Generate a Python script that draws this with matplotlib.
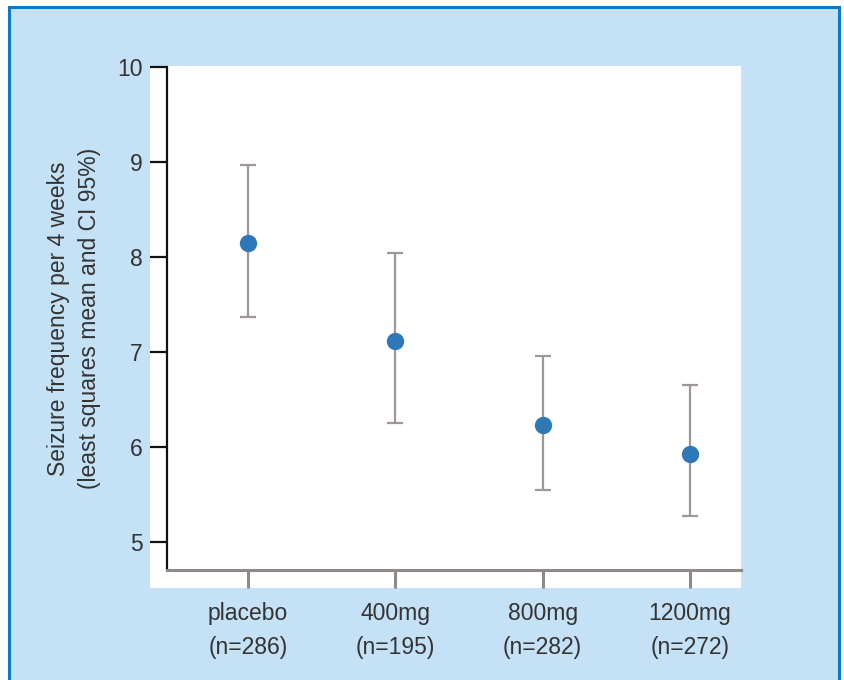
import matplotlib

matplotlib.use("Agg")
import matplotlib.pyplot as plt
from matplotlib.patches import Rectangle

# data
groups = ["placebo", "400mg", "800mg", "1200mg"]
counts = [286, 195, 282, 272]
means = [8.15, 7.12, 6.23, 5.93]
ci_low = [7.37, 6.25, 5.55, 5.27]
ci_high = [8.97, 8.04, 6.96, 6.65]

W, H = 844, 680
BLUE_FILL = "#c4e1f5"
BLUE_EDGE = "#0a7acc"
TEXT = "#333333"
GREY = "#9f9795"
DOT = "#2f78b8"

plt.rcParams["font.family"] = ["Liberation Sans", "DejaVu Sans"]

fig = plt.figure(figsize=(W / 100, H / 100), dpi=100, facecolor="white")


def fx(px):
    return px / W


def fy(py):
    return 1 - py / H


# blue panel and white plot area (behind the axes)
fig.patches.append(Rectangle((fx(9), fy(700)), fx(830), (700 - 7) / H,
                             transform=fig.transFigure, facecolor=BLUE_FILL,
                             edgecolor=BLUE_EDGE, linewidth=2.2, zorder=-2))
fig.patches.append(Rectangle((fx(150), fy(588)), fx(591), (588 - 66) / H,
                             transform=fig.transFigure, facecolor="white",
                             edgecolor="none", zorder=-1))

ax = fig.add_axes([fx(167), fy(570), fx(574), (570 - 67) / H])
ax.set_facecolor("white")

x = list(range(len(groups)))
yerr = [[m - lo for m, lo in zip(means, ci_low)],
        [hi - m for m, hi in zip(means, ci_high)]]
ax.errorbar(x, means, yerr=yerr, fmt="none", ecolor=GREY, elinewidth=1.6,
            capsize=6, capthick=1.6, zorder=2)
ax.plot(x, means, "o", color=DOT, markersize=12.5, markeredgewidth=0, zorder=3)

ax.set_xlim(-0.551, 3.347)
ax.set_ylim(10 - 503 / 95, 10)
ax.set_yticks([5, 6, 7, 8, 9, 10])
ax.set_xticks(x)
ax.set_xticklabels([f"{g}\n(n={n})" for g, n in zip(groups, counts)],
                   linespacing=1.6)

for side in ("top", "right"):
    ax.spines[side].set_visible(False)
ax.spines["left"].set_color("#111111")
ax.spines["left"].set_linewidth(1.6)
ax.spines["bottom"].set_color("#8f8a88")
ax.spines["bottom"].set_linewidth(2.2)
ax.spines["bottom"].set_linestyle((0, (2, 0.6)))

ax.tick_params(axis="y", direction="out", length=12.5, width=1.6,
               color="#111111", labelsize=16.5, labelcolor=TEXT, pad=5)
ax.tick_params(axis="x", direction="out", length=13, width=2.2,
               color="#8f8a88", labelsize=16.5, labelcolor=TEXT, pad=10)

ax.set_ylabel("Seizure frequency per 4 weeks\n(least squares mean and CI 95%)",
              fontsize=16.5, color=TEXT, linespacing=1.4, labelpad=12)

fig.savefig("out.png", dpi=100, facecolor="white")
